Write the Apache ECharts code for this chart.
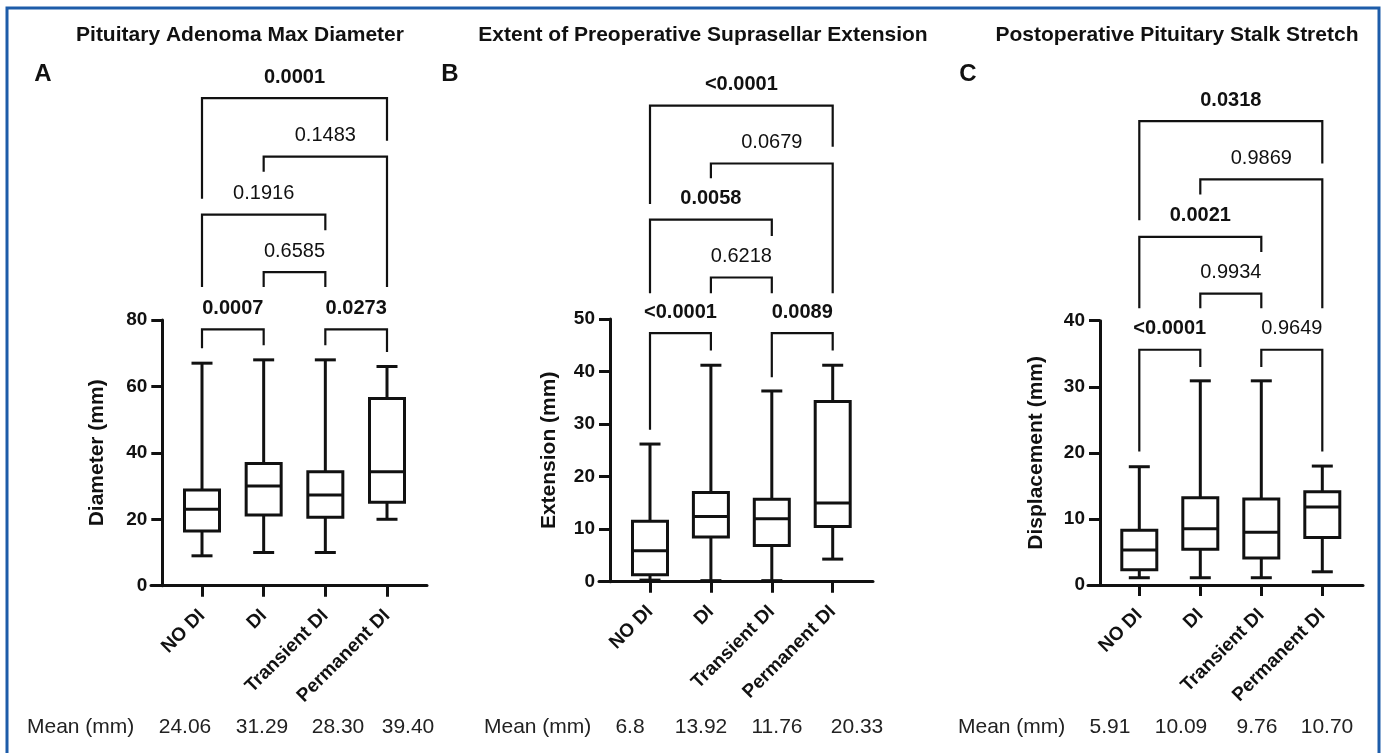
<!DOCTYPE html>
<html>
<head>
<meta charset="utf-8">
<script src="https://cdn.jsdelivr.net/npm/echarts@6/dist/echarts.min.js"></script>
<style>
html,body{margin:0;padding:0;background:#fff}
#chart{width:1383px;height:753px}
</style>
</head>
<body>
<div id="chart"></div>
<script>
var groups = ['NO DI', 'DI', 'Transient DI', 'Permanent DI'];

// box stats per group: [min, q1, median, q3, max]
var diameterBoxes = [[9, 16.5, 23, 28.8, 67], [10, 21.3, 30, 36.8, 68], [10, 20.6, 27.3, 34.3, 68], [20, 25.1, 34.3, 56.4, 66]];
var extensionBoxes = [[0.3, 1.3, 5.9, 11.5, 26.2], [0.2, 8.5, 12.4, 17, 41.2], [0.2, 6.9, 12, 15.7, 36.3], [4.3, 10.5, 15, 34.3, 41.2]];
var displacementBoxes = [[1.1, 2.3, 5.3, 8.3, 17.9], [1.1, 5.4, 8.5, 13.2, 30.9], [1.1, 4.1, 8, 13, 30.9], [2, 7.2, 11.8, 14.1, 18]];

var diameterMeans = ['24.06', '31.29', '28.30', '39.40'];
var extensionMeans = ['6.8', '13.92', '11.76', '20.33'];
var displacementMeans = ['5.91', '10.09', '9.76', '10.70'];

// brackets: [from group, to group, bar height, left leg end, right leg end] (axis units)
var diameterPairs = [[0, 1, 77.2, 71.5, 72.4], [2, 3, 77.2, 72.4, 70.4], [1, 2, 94.4, 89.9, 89.9], [0, 2, 111.7, 89.9, 107], [1, 3, 129.2, 124.6, 89.9], [0, 3, 146.8, 116.5, 134]];
var diameterP = ['0.0007', '0.0273', '0.6585', '0.1916', '0.1483', '0.0001'];
var extensionPairs = [[0, 1, 47.3, 28.9, 44], [2, 3, 47.3, 38.9, 44], [1, 2, 57.9, 54.9, 54.9], [0, 2, 68.9, 54.9, 65.8], [1, 3, 79.6, 76.8, 54.9], [0, 3, 90.6, 71.9, 82.8]];
var extensionP = ['<0.0001', '0.0089', '0.6218', '0.0058', '0.0679', '<0.0001'];
var displacementPairs = [[0, 1, 35.6, 20.2, 33], [2, 3, 35.6, 33, 20.2], [1, 2, 44.1, 41.9, 41.9], [0, 2, 52.7, 41.9, 50.4], [1, 3, 61.4, 59.1, 41.9], [0, 3, 70.2, 55.2, 63.8]];
var displacementP = ['<0.0001', '0.9649', '0.9934', '0.0021', '0.9869', '0.0318'];

var FONT = '"Liberation Sans", Arial, Helvetica, sans-serif';
var INK = '#111';

// page layout (pixels)
var panels = [
  {title: 'Pituitary Adenoma Max Diameter', titleX: 240, letter: 'A', letterX: 43, yName: 'Diameter (mm)', nameGap: 55,
   axisX: 162.3, tickLeft: 151, lineRight: 427, c0: 202, c3: 387, top: 320, bottom: 585.7, yMax: 80, yStep: 20, over: 160,
   meanLabelX: 27, meanX: [185, 262, 338, 408],
   boxes: diameterBoxes, pairs: diameterPairs, pvals: diameterP, means: diameterMeans},
  {title: 'Extent of Preoperative Suprasellar Extension', titleX: 703, letter: 'B', letterX: 450, yName: 'Extension (mm)', nameGap: 50,
   axisX: 610, tickLeft: 599, lineRight: 873, c0: 650, c3: 832.7, top: 319, bottom: 581.7, yMax: 50, yStep: 10, over: 100,
   meanLabelX: 484, meanX: [630, 701, 777, 857],
   boxes: extensionBoxes, pairs: extensionPairs, pvals: extensionP, means: extensionMeans},
  {title: 'Postoperative Pituitary Stalk Stretch', titleX: 1177, letter: 'C', letterX: 968, yName: 'Displacement (mm)', nameGap: 53,
   axisX: 1100, tickLeft: 1088, lineRight: 1363, c0: 1139.3, c3: 1322.3, top: 320.7, bottom: 585, yMax: 40, yStep: 10, over: 80,
   meanLabelX: 958, meanX: [1110, 1181, 1257, 1327],
   boxes: displacementBoxes, pairs: displacementPairs, pvals: displacementP, means: displacementMeans}
];

function renderBox(params, api) {
  var x = api.value(0);
  var lo = api.coord([x, api.value(1)]);
  var q1 = api.coord([x, api.value(2)]);
  var md = api.coord([x, api.value(3)]);
  var q3 = api.coord([x, api.value(4)]);
  var hi = api.coord([x, api.value(5)]);
  var cx = lo[0], bw = 17.5, cw = 10.5;
  var st = {stroke: INK, lineWidth: 3, fill: null};
  return {type: 'group', children: [
    {type: 'line', shape: {x1: cx, y1: hi[1], x2: cx, y2: q3[1]}, style: st},
    {type: 'line', shape: {x1: cx, y1: q1[1], x2: cx, y2: lo[1]}, style: st},
    {type: 'line', shape: {x1: cx - cw, y1: hi[1], x2: cx + cw, y2: hi[1]}, style: st},
    {type: 'line', shape: {x1: cx - cw, y1: lo[1], x2: cx + cw, y2: lo[1]}, style: st},
    {type: 'rect', shape: {x: cx - bw, y: q3[1], width: bw * 2, height: q1[1] - q3[1]}, style: {stroke: INK, lineWidth: 3, fill: '#fff'}},
    {type: 'line', shape: {x1: cx - bw, y1: md[1], x2: cx + bw, y2: md[1]}, style: st}
  ]};
}

function bracketRenderer(labels) {
  return function (params, api) {
    var a = api.value(0), b = api.value(1), h = api.value(2);
    var p1 = api.coord([a, api.value(3)]);
    var p2 = api.coord([a, h]);
    var p3 = api.coord([b, h]);
    var p4 = api.coord([b, api.value(4)]);
    var txt = labels[params.dataIndex];
    var bold = parseFloat(txt.replace('<', '')) < 0.05;
    return {type: 'group', children: [
      {type: 'polyline', shape: {points: [p1, p2, p3, p4]}, style: {stroke: INK, lineWidth: 2.2, fill: null}},
      {type: 'text', x: (p2[0] + p3[0]) / 2, y: p2[1] - 21,
       style: {text: txt, fill: INK, fontSize: 20, fontWeight: bold ? 'bold' : 'normal', fontFamily: FONT,
               textAlign: 'center', textVerticalAlign: 'middle'}}
    ]};
  };
}

var grids = [], xAxes = [], yAxes = [], series = [], graphics = [];

graphics.push({type: 'rect', shape: {x: 7, y: 8, width: 1372, height: 770},
  style: {stroke: '#1d5ca9', lineWidth: 3, fill: null}, z: 10});

panels.forEach(function (L, k) {
  var band = (L.c3 - L.c0) / 3;
  var gLeft = L.c0 - band / 2;
  var h = L.bottom - L.top;
  var overTop = L.bottom - h * L.over / L.yMax;

  grids.push({left: gLeft, top: L.top, width: band * 4, height: h, outerBoundsMode: 'none'});
  grids.push({left: L.tickLeft, top: overTop, width: L.lineRight - L.tickLeft, height: L.bottom - overTop, outerBoundsMode: 'none'});

  xAxes.push({
    type: 'category', gridIndex: 2 * k, data: groups, boundaryGap: true,
    axisLine: {show: false},
    axisTick: {show: true, alignWithLabel: true, length: 11, lineStyle: {color: INK, width: 3}},
    axisLabel: {interval: 0, rotate: 45, margin: 27, color: INK, fontSize: 19, fontWeight: 'bold', fontFamily: FONT},
    splitLine: {show: false}
  });
  yAxes.push({
    type: 'value', gridIndex: 2 * k, min: 0, max: L.yMax, interval: L.yStep, offset: gLeft - L.axisX,
    name: L.yName, nameLocation: 'middle', nameGap: L.nameGap,
    nameTextStyle: {color: INK, fontSize: 21, fontWeight: 'bold', fontFamily: FONT},
    axisLine: {show: true, lineStyle: {color: INK, width: 3}},
    axisTick: {show: true, length: 11, lineStyle: {color: INK, width: 3}},
    axisLabel: {margin: 15, color: INK, fontSize: 19, fontWeight: 'bold', fontFamily: FONT},
    splitLine: {show: false}
  });

  xAxes.push({
    type: 'value', gridIndex: 2 * k + 1,
    min: -(L.c0 - L.tickLeft) / band, max: 3 + (L.lineRight - L.c3) / band,
    axisLine: {show: true, onZero: false, lineStyle: {color: INK, width: 3}},
    axisTick: {show: false}, axisLabel: {show: false}, splitLine: {show: false}
  });
  yAxes.push({type: 'value', gridIndex: 2 * k + 1, min: 0, max: L.over, show: false, splitLine: {show: false}});

  series.push({
    type: 'custom', xAxisIndex: 2 * k, yAxisIndex: 2 * k, renderItem: renderBox,
    encode: {x: 0, y: [1, 2, 3, 4, 5]}, silent: true,
    data: L.boxes.map(function (b, i) { return [i].concat(b); })
  });
  series.push({
    type: 'custom', xAxisIndex: 2 * k + 1, yAxisIndex: 2 * k + 1, renderItem: bracketRenderer(L.pvals),
    encode: {x: [0, 1], y: [2, 3, 4]}, silent: true, clip: false,
    data: L.pairs
  });

  graphics.push({type: 'text', x: L.titleX, y: 35,
    style: {text: L.title, fill: INK, fontSize: 21, fontWeight: 'bold', fontFamily: FONT, textAlign: 'center', textVerticalAlign: 'middle'}});
  graphics.push({type: 'text', x: L.letterX, y: 74,
    style: {text: L.letter, fill: INK, fontSize: 24, fontWeight: 'bold', fontFamily: FONT, textAlign: 'center', textVerticalAlign: 'middle'}});
  graphics.push({type: 'text', x: L.meanLabelX, y: 727,
    style: {text: 'Mean (mm)', fill: '#222', fontSize: 21, fontFamily: FONT, textAlign: 'left', textVerticalAlign: 'middle'}});
  L.means.forEach(function (m, i) {
    graphics.push({type: 'text', x: L.meanX[i], y: 727,
      style: {text: m, fill: '#222', fontSize: 21, fontFamily: FONT, textAlign: 'center', textVerticalAlign: 'middle'}});
  });
});

var chart = echarts.init(document.getElementById('chart'));
chart.setOption({
  animation: false,
  backgroundColor: '#fff',
  grid: grids,
  xAxis: xAxes,
  yAxis: yAxes,
  series: series,
  graphic: graphics
});
</script>
</body>
</html>
